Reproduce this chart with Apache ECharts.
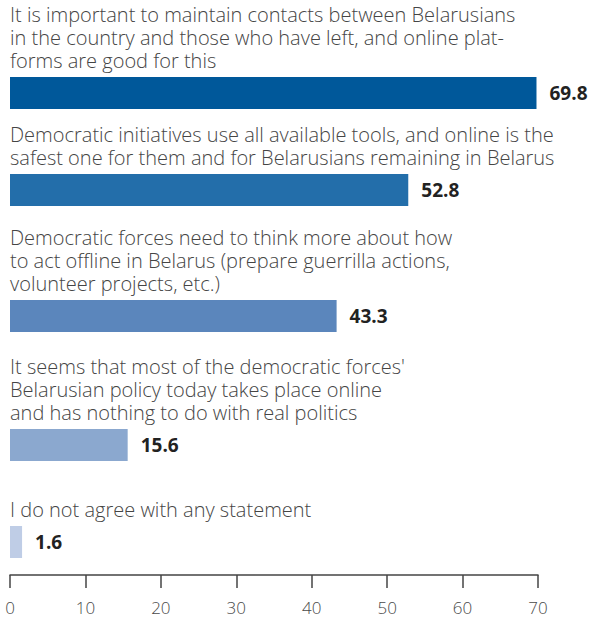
<!DOCTYPE html>
<html>
<head>
<meta charset="utf-8">
<script src="https://cdn.jsdelivr.net/npm/echarts@6/dist/echarts.min.js"></script>
<style>
  html, body { margin: 0; padding: 0; background: #ffffff; }
  #chart { width: 592px; height: 623px; }
</style>
</head>
<body>
<div id="chart"></div>
<script>
// Survey statements (line breaks kept as typeset)
const categories = [
  'It is important to maintain contacts between Belarusians\nin the country and those who have left, and online plat-\nforms are good for this',
  'Democratic initiatives use all available tools, and online is the\nsafest one for them and for Belarusians remaining in Belarus',
  'Democratic forces need to think more about how\nto act offline in Belarus (prepare guerrilla actions,\nvolunteer projects, etc.)',
  'It seems that most of the democratic forces\'\nBelarusian policy today takes place online\nand has nothing to do with real politics',
  'I do not agree with any statement'
];
// Share of respondents, %
const values = [69.8, 52.8, 43.3, 15.6, 1.6];
// Axis range and step
const axisMin = 0;
const axisMax = 70;
const axisStep = 10;

const barColors = ['#00589a', '#236eaa', '#5b86bc', '#8ba8cf', '#bfcde6'];
const barTops = [77, 174, 300, 429, 526];
const barHeight = 32;
const plotLeft = 10;
const plotRight = 54;
const labelFont = '"Open Sans", Lato, sans-serif';

const grids = [], xAxes = [], yAxes = [], series = [];
categories.forEach((cat, i) => {
  const isLast = i === categories.length - 1;
  grids.push({ left: plotLeft, right: plotRight, top: barTops[i], height: barHeight });
  xAxes.push({
    gridIndex: i,
    type: 'value',
    min: axisMin,
    max: axisMax,
    interval: axisStep,
    show: isLast,
    offset: isLast ? 17 : 0,
    axisLine: { show: true, lineStyle: { color: '#444', width: 1.5 } },
    axisTick: { show: true, length: 13, lineStyle: { color: '#444', width: 1.5 } },
    axisLabel: { color: '#4a4a4a', fontSize: 17, margin: 24, fontFamily: labelFont, fontWeight: 300 },
    splitLine: { show: false }
  });
  yAxes.push({
    gridIndex: i,
    type: 'category',
    data: [cat],
    axisLine: { show: false },
    axisTick: { show: false },
    axisLabel: {
      show: true,
      align: 'left',
      verticalAlign: 'bottom',
      margin: 0,
      padding: [0, 0, 21, 0],
      lineHeight: 23,
      fontSize: 20,
      color: '#454545',
      fontFamily: labelFont,
      fontWeight: 300
    }
  });
  series.push({
    type: 'bar',
    xAxisIndex: i,
    yAxisIndex: i,
    data: [values[i]],
    barWidth: barHeight,
    itemStyle: { color: barColors[i] },
    label: {
      show: true,
      position: 'right',
      distance: 13,
      formatter: p => p.value.toFixed(1),
      fontSize: 19,
      fontWeight: 'bold',
      color: '#222',
      fontFamily: labelFont
    },
    silent: true
  });
});

const chart = echarts.init(document.getElementById('chart'), null, { renderer: 'svg' });
chart.setOption({
  animation: false,
  backgroundColor: '#ffffff',
  grid: grids,
  xAxis: xAxes,
  yAxis: yAxes,
  series: series
});
</script>
</body>
</html>
